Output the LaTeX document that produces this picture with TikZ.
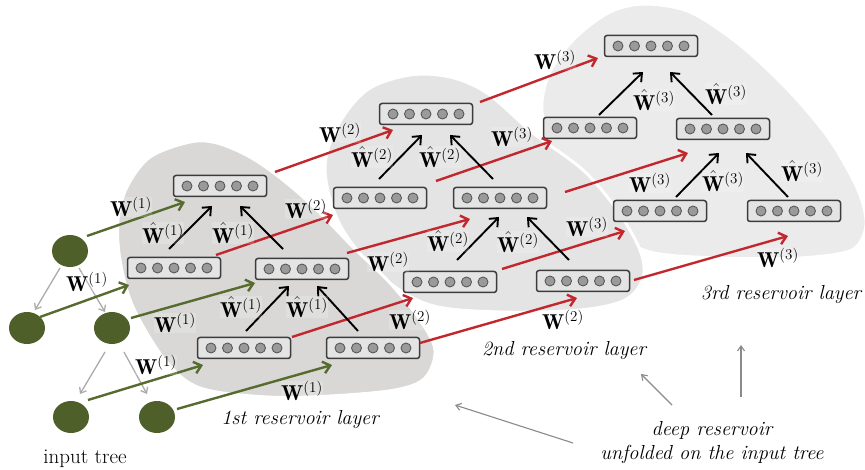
\RequirePackage{fix-cm}
\documentclass[tikz,border=0pt]{standalone}
\usepackage{fontspec}
\usepackage{amsmath}
\usetikzlibrary{arrows.meta,shapes.geometric}
\definecolor{blobA}{HTML}{D9D8D7}
\definecolor{blobB}{HTML}{E4E4E4}
\definecolor{blobC}{HTML}{EBEBEB}
\definecolor{boxfill}{HTML}{E4E4E4}
\definecolor{boxline}{HTML}{3C3C3C}
\definecolor{neuronfill}{HTML}{9A9A9A}
\definecolor{neuronline}{HTML}{595959}
\definecolor{olivenode}{HTML}{4E5F2A}
\definecolor{greenarrow}{HTML}{566B2E}
\definecolor{redarrow}{HTML}{C1272D}
\definecolor{treegray}{HTML}{ABABAB}
\definecolor{notegray}{HTML}{8A8A8A}
\tikzset{
 unitbox/.style={draw=boxline, fill=boxfill, rounded corners=2.5pt, line width=1.5pt, minimum width=93pt, minimum height=21pt, inner sep=0pt},
 neuron/.style={draw=neuronline, fill=neuronfill, line width=0.9pt},
 treenode/.style={ellipse, fill=olivenode, minimum width=36pt, minimum height=32pt, inner sep=0pt},
 inarrow/.style={draw=greenarrow, line width=2.4pt, -{Straight Barb[length=7pt,width=12pt]}},
 uparrow/.style={draw=redarrow, line width=2.4pt, -{Straight Barb[length=7pt,width=12pt]}},
 recarrow/.style={draw=black, line width=1.9pt, -{Straight Barb[length=7pt,width=12pt]}},
 treeedge/.style={draw=treegray, line width=1.3pt, -{Straight Barb[length=5pt,width=8pt]}},
 notearrow/.style={draw=notegray, line width=1.1pt, -{Straight Barb[length=5pt,width=7pt]}},
 lbl/.style={fill=white, fill opacity=0.18, text opacity=1, inner sep=0.3pt, font=\fontsize{21.5}{24}\selectfont},
 blobline/.style={draw=white, line width=3pt},
 captext/.style={font=\fontsize{20.3}{24}\selectfont\itshape},
}
\begin{document}
\begin{tikzpicture}[x=1pt,y=-1pt, every node/.style={font=\fontsize{21}{24}\selectfont}]
\useasboundingbox (0,0) rectangle (865,470);
% layer backgrounds
\filldraw[fill=blobC, blobline] plot[smooth cycle, tension=0.5] coordinates {(542,112) (550,72) (575,38) (610,12) (645,4) (690,12) (740,45) (790,92) (830,140) (858,190) (866,225) (852,250) (800,258) (720,258) (650,252) (600,225) (560,175)};
\filldraw[fill=blobB, blobline] plot[smooth cycle, tension=0.55] coordinates {(325,170) (337,127) (367,90) (410,75) (450,77) (487,93) (533,133) (583,170) (617,210) (640,250) (643,278) (625,300) (580,310) (500,312) (430,305) (380,275) (340,225)};
\filldraw[fill=blobA, blobline] plot[smooth cycle, tension=0.55] coordinates {(118,220) (127,187) (150,157) (190,142) (217,143) (250,157) (283,180) (317,210) (353,247) (390,283) (420,320) (435,350) (425,378) (395,390) (330,396) (267,397) (200,388) (165,360) (133,307) (120,260)};
% input tree
\node[treenode] (t0) at (70,251) {};
\node[treenode] (t1) at (27,328) {};
\node[treenode] (t2) at (112,328) {};
\node[treenode] (t3) at (71,417) {};
\node[treenode] (t4) at (157,417) {};
% reservoir units
\node[unitbox] (a1) at (220,186) {};
\node[unitbox] (a2) at (174,268) {};
\node[unitbox] (a3) at (302,269) {};
\node[unitbox] (a4) at (244,348) {};
\node[unitbox] (a5) at (373,348) {};
\node[unitbox] (b1) at (426,114) {};
\node[unitbox] (b2) at (380,198) {};
\node[unitbox] (b3) at (500,198) {};
\node[unitbox] (b4) at (450,282) {};
\node[unitbox] (b5) at (583,281) {};
\node[unitbox] (c1) at (651,46) {};
\node[unitbox] (c2) at (590,128) {};
\node[unitbox] (c3) at (723,129) {};
\node[unitbox] (c4) at (660,211) {};
\node[unitbox] (c5) at (794,211) {};
\foreach \b in {a1,a2,a3,a4,a5,b1,b2,b3,b4,b5,c1,c2,c3,c4,c5}
  \foreach \i in {-2,...,2}
    \draw[neuron] ([xshift=\i*16.5pt]\b.center) circle[radius=5pt];
% tree edges
\draw[treeedge] ([shift={(-10,17)}]t0.center) -- ([shift={(8,-18)}]t1.center);
\draw[treeedge] ([shift={(9,17)}]t0.center) -- ([shift={(-7,-16)}]t2.center);
\draw[treeedge] ([shift={(-7,24)}]t2.center) -- ([shift={(9,-23)}]t3.center);
\draw[treeedge] ([shift={(12,24)}]t2.center) -- ([shift={(-10,-23)}]t4.center);
% input connections
\draw[inarrow] ([shift={(17,-15)}]t0.center) -- ([shift={(-35,16)}]a1.center);
\draw[inarrow] ([shift={(13,-11)}]t1.center) -- ([shift={(-45,17)}]a2.center);
\draw[inarrow] ([shift={(19,-10)}]t2.center) -- ([shift={(-47,14)}]a3.center);
\draw[inarrow] ([shift={(17,-17)}]t3.center) -- ([shift={(-41,17)}]a4.center);
\draw[inarrow] ([shift={(20,-8)}]t4.center) -- ([shift={(-41,17)}]a5.center);
% inter-layer connections
\draw[uparrow] ([shift={(55,-14)}]a1.center) -- ([shift={(-33,16)}]b1.center);
\draw[uparrow] ([shift={(42,-13)}]a2.center) -- ([shift={(-47,17)}]b2.center);
\draw[uparrow] ([shift={(45,-16)}]a3.center) -- ([shift={(-30,21)}]b3.center);
\draw[uparrow] ([shift={(48,-11)}]a4.center) -- ([shift={(-37,16)}]b4.center);
\draw[uparrow] ([shift={(47,-5)}]a5.center) -- ([shift={(-6,17)}]b5.center);
\draw[uparrow] ([shift={(54,-12)}]b1.center) -- ([shift={(-53,12)}]c1.center);
\draw[uparrow] ([shift={(56,-17)}]b2.center) -- ([shift={(-38,13)}]c2.center);
\draw[uparrow] ([shift={(65,-6)}]b3.center) -- ([shift={(-35,24)}]c3.center);
\draw[uparrow] ([shift={(52,-13)}]b4.center) -- ([shift={(-35,20)}]c4.center);
\draw[uparrow] ([shift={(51,-1)}]b5.center) -- ([shift={(-6,25)}]c5.center);
% recurrent (tree) connections
\draw[recarrow] ([shift={(-5,-19)}]a2.center) -- ([shift={(-8,20)}]a1.center);
\draw[recarrow] ([shift={(-19,-20)}]a3.center) -- ([shift={(20,20)}]a1.center);
\draw[recarrow] ([shift={(2,-17)}]a4.center) -- ([shift={(-13,17)}]a3.center);
\draw[recarrow] ([shift={(-15,-17)}]a5.center) -- ([shift={(15,17)}]a3.center);
\draw[recarrow] ([shift={(-1,-19)}]b2.center) -- ([shift={(-4,21)}]b1.center);
\draw[recarrow] ([shift={(-7,-19)}]b3.center) -- ([shift={(24,21)}]b1.center);
\draw[recarrow] ([shift={(7,-22)}]b4.center) -- ([shift={(-1,19)}]b3.center);
\draw[recarrow] ([shift={(-14,-21)}]b5.center) -- ([shift={(27,19)}]b3.center);
\draw[recarrow] ([shift={(9,-13)}]c2.center) -- ([shift={(-8,26)}]c1.center);
\draw[recarrow] ([shift={(-11,-14)}]c3.center) -- ([shift={(19,26)}]c1.center);
\draw[recarrow] ([shift={(16,-14)}]c4.center) -- ([shift={(-4,24)}]c3.center);
\draw[recarrow] ([shift={(-6,-14)}]c5.center) -- ([shift={(23,24)}]c3.center);
% labels W(1)
\node[lbl] (w1a) at (131,207) {$\mathbf{W}^{(1)}$};
\node[lbl] (w1b) at (87,282) {$\mathbf{W}^{(1)}$};
\node[lbl] (w1c) at (175,323) {$\mathbf{W}^{(1)}$};
\node[lbl] (w1d) at (156,365) {$\mathbf{W}^{(1)}$};
\node[lbl] (w1e) at (302,391) {$\mathbf{W}^{(1)}$};
% labels W(2)
\node[lbl] (w2a) at (340,133) {$\mathbf{W}^{(2)}$};
\node[lbl] (w2b) at (306,209) {$\mathbf{W}^{(2)}$};
\node[lbl] (w2c) at (388,262) {$\mathbf{W}^{(2)}$};
\node[lbl] (w2d) at (410,320) {$\mathbf{W}^{(2)}$};
\node[lbl] (w2e) at (563,320) {$\mathbf{W}^{(2)}$};
% labels W(3)
\node[lbl] (w3a) at (555,60) {$\mathbf{W}^{(3)}$};
\node[lbl] (w3b) at (512,137) {$\mathbf{W}^{(3)}$};
\node[lbl] (w3c) at (650,183) {$\mathbf{W}^{(3)}$};
\node[lbl] (w3d) at (587,227) {$\mathbf{W}^{(3)}$};
\node[lbl] (w3e) at (778,258) {$\mathbf{W}^{(3)}$};
% labels hat W
\node[lbl] (h1a) at (163,233) {$\hat{\mathbf{W}}^{(1)}$};
\node[lbl] (h1b) at (233,233) {$\hat{\mathbf{W}}^{(1)}$};
\node[lbl] (h1c) at (241,307) {$\hat{\mathbf{W}}^{(1)}$};
\node[lbl] (h1d) at (307,307) {$\hat{\mathbf{W}}^{(1)}$};
\node[lbl] (h2a) at (372,157) {$\hat{\mathbf{W}}^{(2)}$};
\node[lbl] (h2b) at (440,157) {$\hat{\mathbf{W}}^{(2)}$};
\node[lbl] (h2c) at (448,241) {$\hat{\mathbf{W}}^{(2)}$};
\node[lbl] (h2d) at (518,242) {$\hat{\mathbf{W}}^{(2)}$};
\node[lbl] (h3a) at (654,100) {$\hat{\mathbf{W}}^{(3)}$};
\node[lbl] (h3b) at (726,94) {$\hat{\mathbf{W}}^{(3)}$};
\node[lbl] (h3c) at (723,181) {$\hat{\mathbf{W}}^{(3)}$};
\node[lbl] (h3d) at (802,171) {$\hat{\mathbf{W}}^{(3)}$};
% captions
\node (intree) at (85,459) {input tree};
\node[captext] (cap1) at (300,420) {1st reservoir layer};
\node[captext] (cap2) at (564,351) {2nd reservoir layer};
\node[captext] (cap3) at (781,295) {3rd reservoir layer};
\node[captext, align=center] (deep) at (712,443) {deep reservoir\\unfolded on the input tree};
\coordinate (p1) at (455,405);
\coordinate (p2) at (641,374);
\coordinate (p3) at (741,345);
\coordinate (q1) at (573,443);
\coordinate (q2) at (672,405);
\coordinate (q3) at (741,397);
\draw[notearrow] (q1) -- (p1);
\draw[notearrow] (q2) -- (p2);
\draw[notearrow] (q3) -- (p3);
\end{tikzpicture}
\end{document}
